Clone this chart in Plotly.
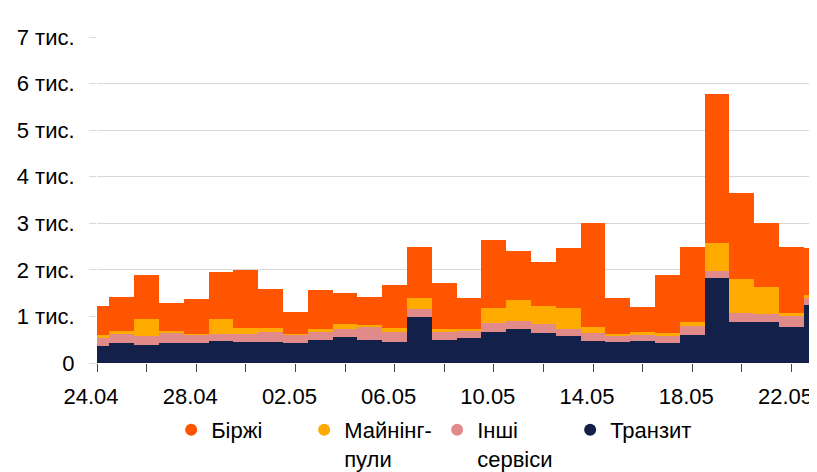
import pandas as pd
import plotly.graph_objects as go

dates = pd.date_range("2022-04-24", periods=30, freq="D").strftime("%Y-%m-%d").tolist()

tranzyt = [370, 440, 390, 440, 440, 480, 460, 460, 430, 490, 550, 500, 460, 980, 490,
           530, 670, 730, 640, 580, 480, 460, 480, 430, 610, 1820, 880, 870, 780, 1240]
inshi = [160, 180, 180, 220, 170, 140, 160, 200, 180, 170, 190, 290, 200, 190, 180,
         160, 190, 180, 200, 150, 160, 140, 140, 170, 190, 160, 190, 180, 230, 150]
mainingh = [80, 70, 370, 20, 10, 320, 140, 100, 10, 80, 90, 20, 100, 220, 70,
            50, 320, 440, 390, 450, 140, 20, 40, 40, 70, 590, 730, 590, 60, 70]
birzhi = [620, 730, 960, 600, 760, 1020, 1240, 820, 470, 820, 670, 600, 920, 1110, 980,
          650, 1460, 1050, 930, 1300, 2230, 770, 550, 1240, 1630, 3200, 1850, 1370, 1420, 1000]

series = [
    ("Транзит", tranzyt, "#13204a", 4),
    ("Інші<br>сервіси", inshi, "#e08a8a", 3),
    ("Майнінг-<br>пули", mainingh, "#ffaa00", 2),
    ("Біржі", birzhi, "#ff5500", 1),
]

y_tickvals = [0, 1000, 2000, 3000, 4000, 5000, 6000, 7000]
y_ticktext = ["0", "1 тис.", "2 тис.", "3 тис.", "4 тис.", "5 тис.", "6 тис.", "7 тис."]

DAY_MS = 86400000

fig = go.Figure()
for name, vals, color, rank in series:
    fig.add_trace(go.Bar(
        x=dates, y=vals, name=name, width=DAY_MS,
        marker=dict(color=color, line=dict(width=0)),
        showlegend=False,
    ))
for name, vals, color, rank in series:
    fig.add_trace(go.Scatter(
        x=[None], y=[None], mode="markers", name=name,
        marker=dict(color=color, size=13, symbol="circle"),
        legendrank=rank, showlegend=True,
    ))

# page body has an 8px margin: figure is sized to end at the window edge
fig.update_layout(
    width=809, height=464,
    margin=dict(l=89, r=0, t=29, b=109, autoexpand=False),
    barmode="stack", bargap=0,
    paper_bgcolor="white", plot_bgcolor="white",
    font=dict(family="Liberation Sans, Arial, sans-serif", size=22, color="#000000"),
    showlegend=True,
    legend=dict(
        orientation="h", x=0.103, xanchor="left", y=-0.141, yanchor="top",
        valign="top", traceorder="normal", font=dict(size=22),
        itemsizing="constant", entrywidth=88, tracegroupgap=0,
    ),
    xaxis=dict(
        type="date",
        range=["2022-04-24", "2022-05-23 00:43"],
        tick0="2022-04-24", dtick=4 * DAY_MS, tickformat="%d.%m",
        ticks="outside", ticklen=8, tickcolor="#444444", tickwidth=1,
        ticklabelstandoff=6, ticklabelshift=-6, ticklabeloverflow="allow",
        minor=dict(dtick=2 * DAY_MS, tick0="2022-04-24", ticks="outside",
                   ticklen=8, tickcolor="#444444", tickwidth=1, showgrid=False),
        showgrid=False, showline=False, zeroline=False, automargin=False,
    ),
    yaxis=dict(
        range=[0, 7000], tickvals=y_tickvals, ticktext=y_ticktext,
        showgrid=True, gridcolor="#d9d9d9", gridwidth=1,
        ticks="outside", ticklen=7, tickcolor="#d9d9d9",
        ticklabelstandoff=10,
        zeroline=False, showline=False, automargin=False,
    ),
)

fig.write_html("out.html")
